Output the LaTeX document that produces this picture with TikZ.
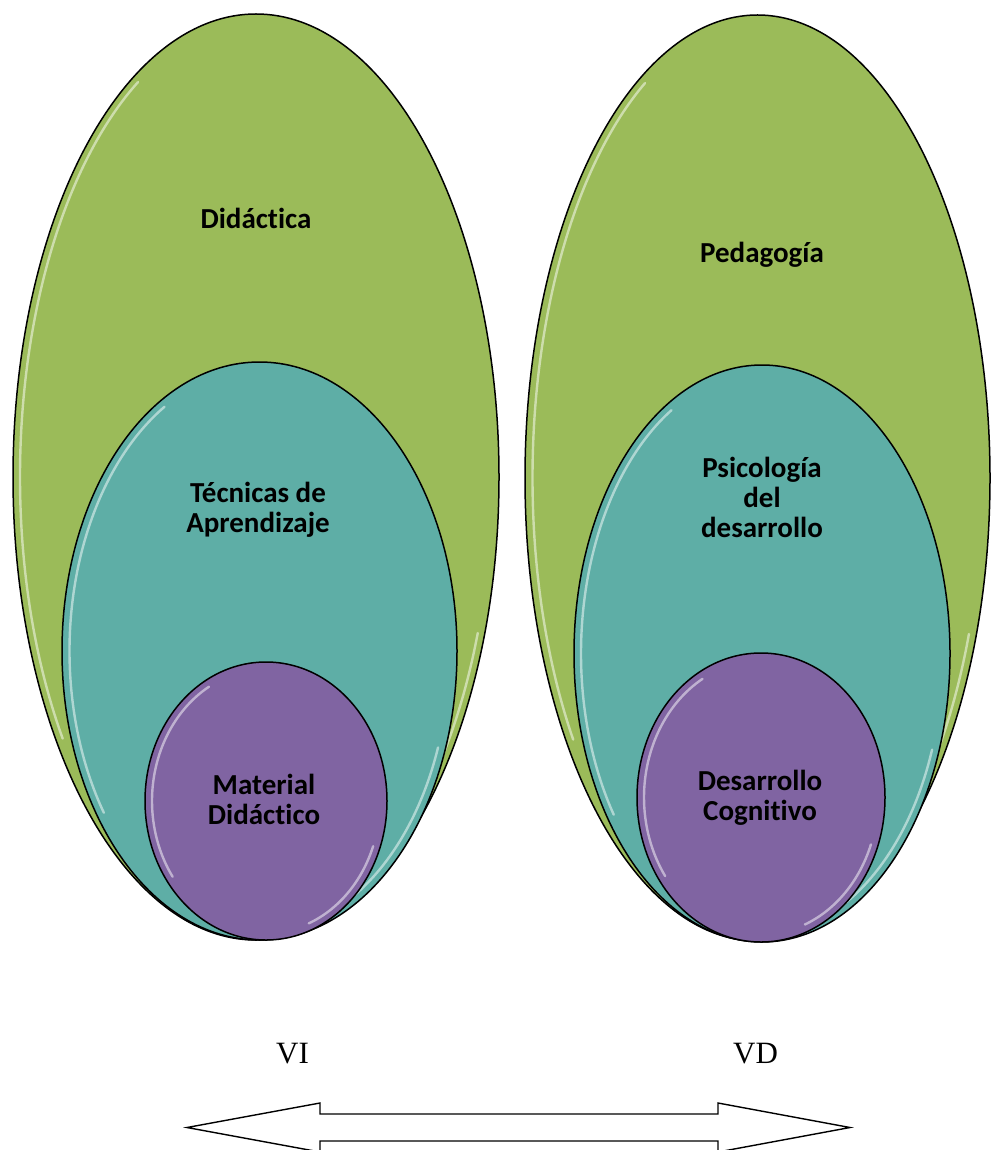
\documentclass[tikz,border=0pt]{standalone}
\usepackage{fontspec}
\setmainfont{Carlito}[Ligatures=NoCommon]
\newfontfamily\timesf{Liberation Serif}
\usetikzlibrary{shapes.geometric}
\definecolor{cgreen}{HTML}{9BBB59}
\definecolor{cteal}{HTML}{5EAEA6}
\definecolor{cpurple}{HTML}{8064A2}
\tikzset{
  ell/.style={ellipse, draw=black, line width=1.5pt, inner sep=0pt},
  hl/.style={draw=white, line width=2.4pt, opacity=0.5, line cap=round},
  lbl/.style={font=\bfseries\fontsize{29}{30}\selectfont, align=center, inner sep=0pt, anchor=base},
  vlbl/.style={font=\timesf\fontsize{31}{33}\selectfont, inner sep=0pt, anchor=base},
  bigarrow/.style={draw=black, line width=1.4pt, fill=white, line join=miter}
}
\newcommand{\glossy}[3]{%
  \draw[hl] (#1) ++(120:#2 and #3) arc[start angle=120, end angle=215, x radius=#2, y radius=#3];
  \draw[hl] (#1) ++(292:#2 and #3) arc[start angle=292, end angle=340, x radius=#2, y radius=#3];
}
\begin{document}
\begin{tikzpicture}[x=1pt, y=1pt]
\useasboundingbox (0,0) rectangle (990,-1150);
% left group
\node[ell, fill=cgreen, minimum width=486pt, minimum height=926pt] (L1) at (256,-477) {};
\glossy{L1.center}{236pt}{456pt}
\node[ell, fill=cteal, minimum width=395pt, minimum height=578pt] (L2) at (259.5,-651) {};
\glossy{L2.center}{190pt}{282pt}
\node[ell, fill=cpurple, minimum width=242pt, minimum height=278pt] (L3) at (266,-801) {};
\glossy{L3.center}{114pt}{132pt}
% right group
\node[ell, fill=cgreen, minimum width=465pt, minimum height=926pt] (R1) at (757.5,-478) {};
\glossy{R1.center}{225pt}{456pt}
\node[ell, fill=cteal, minimum width=376pt, minimum height=577pt] (R2) at (762,-653.5) {};
\glossy{R2.center}{181pt}{281pt}
\node[ell, fill=cpurple, minimum width=248pt, minimum height=289pt] (R3) at (761,-797.5) {};
\glossy{R3.center}{117pt}{137pt}
% labels (multi-line nodes: base = baseline of last line)
\node[lbl] (t1) at (256,-229) {Didáctica};
\node[lbl] (t2) at (258,-532) {Técnicas de\\Aprendizaje};
\node[lbl] (t3) at (264,-824) {Material\\Didáctico};
\node[lbl] (t4) at (762,-262) {Pedagogía};
\node[lbl] (t5) at (762,-537) {Psicología\\del\\desarrollo};
\node[lbl] (t6) at (760,-820) {Desarrollo\\Cognitivo};
\node[vlbl] (vi) at (292.5,-1063) {VI};
\node[vlbl] (vd) at (755.5,-1063) {VD};
% double arrow
\draw[bigarrow] (187,-1127.5) -- (320,-1103) -- (320,-1114) -- (718,-1114) -- (718,-1103)
  -- (850,-1127.5) -- (718,-1152) -- (718,-1141) -- (320,-1141) -- (320,-1152) -- cycle;
\end{tikzpicture}
\end{document}
